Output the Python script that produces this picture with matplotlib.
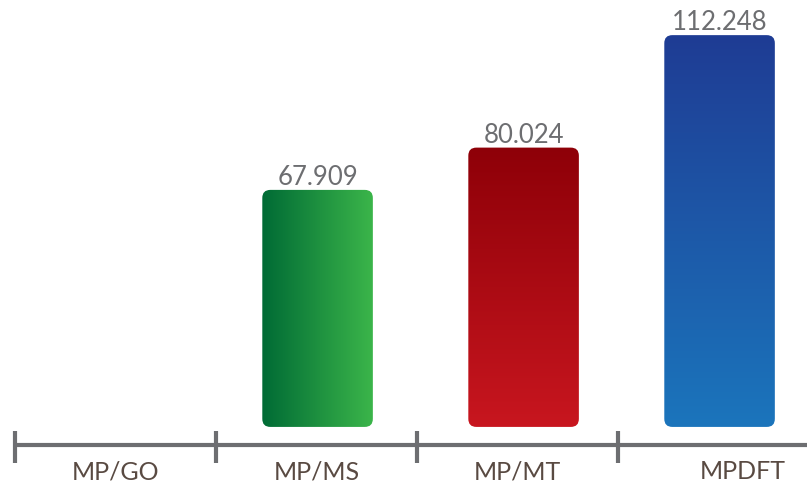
import matplotlib.pyplot as plt
import numpy as np
from matplotlib.patches import FancyBboxPatch
from matplotlib.colors import LinearSegmentedColormap

plt.rcParams['font.family'] = ['Lato', 'DejaVu Sans']

# datos
categorias = ['MP/GO', 'MP/MS', 'MP/MT', 'MPDFT']
valores = [np.nan, 67.909, 80.024, 112.248]
etiquetas = ['', '67.909', '80.024', '112.248']

# colores del degradado: (inicio, fin, dirección)
degradados = [
    None,
    ('#006B35', '#3BB54A', 'h'),
    ('#8E0008', '#C8161F', 'v'),
    ('#1F3C94', '#1B75BC', 'v'),
]

fig = plt.figure(figsize=(8.07, 4.89), dpi=100)
ax = fig.add_axes([0, 0, 1, 1])
ax.set_xlim(-0.575, 3.44)
ax.set_ylim(-17.5, 122.6)
ax.axis('off')

x = np.arange(len(categorias))
x_barras = x + np.array([0.0, 0.005, 0.03, 0.005])
barras = ax.bar(x_barras, np.nan_to_num(valores), width=0.55, alpha=0)

# relación de aspecto para esquinas redondeadas
fig.canvas.draw()
p0 = ax.transData.transform((0, 0))
p1 = ax.transData.transform((1, 1))
aspecto = (p1[0] - p0[0]) / (p1[1] - p0[1])

for b, g, v, txt in zip(barras, degradados, valores, etiquetas):
    if g is None or np.isnan(v):
        continue
    x0, w, h = b.get_x(), b.get_width(), b.get_height()
    c1, c2, d = g
    cmap = LinearSegmentedColormap.from_list('g', [c1, c2])
    if d == 'h':
        grad = np.linspace(0, 1, 256).reshape(1, -1)
    else:
        grad = np.linspace(0, 1, 256).reshape(-1, 1)
    im = ax.imshow(grad, cmap=cmap, extent=(x0, x0 + w, 0, h),
                   aspect='auto', origin='upper', zorder=2)
    clip = FancyBboxPatch((x0, 0), w, h, boxstyle='round,pad=0,rounding_size=0.04',
                          mutation_aspect=aspecto, transform=ax.transData,
                          facecolor='none', edgecolor='none')
    ax.add_patch(clip)
    im.set_clip_path(clip)
    ax.text(x0 + w / 2, h + 0.2, txt, ha='center', va='bottom',
            fontsize=18.5, color='#6D6E71')

# eje inferior
ax.plot([-0.5, 3.44], [-5.16, -5.16], color='#6D6E71', lw=3, solid_capstyle='butt', zorder=1)
for t in np.arange(-0.5, 3.0, 1.0):
    ax.plot([t, t], [-1.15, -10.3], color='#6D6E71', lw=3, solid_capstyle='butt')

desp = [0.0, 0.0, 0.0, 0.12]
for xi, cat, dx in zip(x, categorias, desp):
    ax.text(xi + dx, -12.6, cat, ha='center', va='center', fontsize=18,
            color='#594A42')

fig.savefig('out.png', dpi=100)
